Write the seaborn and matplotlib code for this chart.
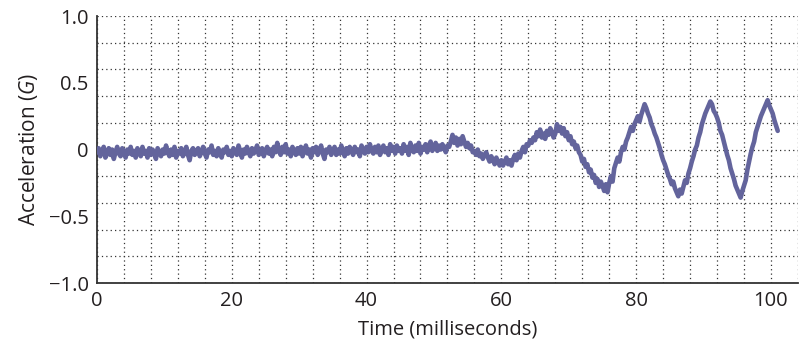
import numpy as np
import pandas as pd
import matplotlib
matplotlib.use("Agg")
import matplotlib.pyplot as plt
import seaborn as sns

# ------------------ DATA (0.25 ms steps) ------------------
time_ms = np.arange(0, 101.01, 0.25)

accel_g = [
    # 0 - 5 ms
    -0.02, 0.01, -0.05, -0.01, 0.02, -0.06, -0.03, 0.01, -0.04, 0.00,
    -0.07, -0.02, 0.02, -0.03, -0.05, 0.01, -0.02, -0.06, 0.00, -0.03,
    # 5 - 10 ms
    0.02, -0.04, -0.01, -0.06, 0.01, -0.02, -0.05, 0.02, -0.03, -0.01,
    -0.06, 0.01, -0.04, 0.00, -0.03, -0.07, 0.01, -0.02, -0.05, 0.00,
    # 10 - 15 ms
    -0.03, 0.03, -0.02, -0.05, 0.00, -0.04, 0.02, -0.06, -0.01, -0.03,
    0.01, -0.05, -0.02, 0.02, -0.04, -0.08, -0.01, 0.01, -0.04, -0.02,
    # 15 - 20 ms
    0.01, -0.05, -0.02, 0.02, -0.03, -0.06, 0.00, -0.02, 0.03, -0.04,
    -0.01, -0.05, 0.01, -0.03, -0.06, 0.00, -0.02, 0.02, -0.04, -0.01,
    # 20 - 25 ms
    -0.05, 0.01, -0.02, -0.04, 0.03, -0.01, -0.06, 0.00, -0.03, 0.02,
    -0.02, -0.05, 0.01, -0.03, -0.01, 0.03, -0.04, -0.02, 0.01, -0.05,
    # 25 - 30 ms
    -0.01, 0.02, -0.03, 0.00, -0.05, 0.02, -0.02, 0.05, -0.01, -0.04,
    0.02, -0.02, 0.04, -0.03, 0.00, -0.05, 0.02, -0.01, -0.04, 0.01,
    # 30 - 35 ms
    -0.03, 0.02, -0.05, -0.01, 0.03, -0.03, 0.00, -0.06, 0.01, -0.02,
    0.02, -0.04, -0.01, 0.03, -0.03, -0.07, 0.00, -0.02, 0.02, -0.04,
    # 35 - 40 ms
    -0.01, 0.02, -0.04, 0.00, -0.03, 0.03, -0.02, -0.05, 0.01, -0.03,
    0.02, -0.01, -0.04, 0.02, -0.02, 0.00, -0.05, 0.03, -0.01, -0.03,
    # 40 - 45 ms
    0.02, -0.02, 0.04, -0.01, -0.03, 0.02, -0.02, 0.03, -0.04, 0.00,
    0.03, -0.02, 0.01, -0.04, 0.04, -0.01, 0.02, -0.03, 0.03, -0.01,
    # 45 - 50 ms
    0.01, -0.03, 0.04, -0.01, 0.02, -0.04, 0.05, 0.00, -0.02, 0.03,
    -0.01, 0.05, -0.03, 0.02, 0.00, 0.04, -0.02, 0.03, 0.06, -0.01,
    # 50 - 55 ms
    0.02, 0.05, -0.01, 0.03, 0.00, 0.04, 0.01, -0.02, 0.03, 0.02,
    0.06, 0.11, 0.05, 0.09, 0.03, 0.08, 0.04, 0.10, 0.06, 0.02,
    # 55 - 60 ms
    0.05, 0.01, 0.03, -0.02, -0.01, -0.04, 0.00, -0.05, -0.03, -0.07,
    -0.04, -0.02, -0.06, -0.09, -0.05, -0.08, -0.11, -0.06, -0.09, -0.12,
    # 60 - 65 ms
    -0.08, -0.12, -0.09, -0.06, -0.11, -0.08, -0.12, -0.07, -0.04, -0.08,
    -0.03, -0.06, -0.01, 0.02, -0.02, 0.04, 0.03, 0.07, 0.05, 0.09,
    # 65 - 70 ms
    0.07, 0.13, 0.10, 0.15, 0.09, 0.12, 0.08, 0.14, 0.11, 0.16,
    0.13, 0.09, 0.12, 0.19, 0.14, 0.17, 0.12, 0.16, 0.10, 0.13,
    # 70 - 75 ms
    0.07, 0.10, 0.04, 0.06, 0.01, 0.03, -0.02, -0.04, -0.09, -0.07,
    -0.13, -0.11, -0.17, -0.15, -0.21, -0.19, -0.25, -0.22, -0.28, -0.24,
    # 75 - 80 ms
    -0.27, -0.31, -0.26, -0.32, -0.25, -0.20, -0.24, -0.14, -0.10, -0.06,
    -0.09, -0.02, 0.02, 0.00, 0.06, 0.09, 0.13, 0.17, 0.14, 0.19,
    # 80 - 85 ms
    0.22, 0.25, 0.21, 0.26, 0.30, 0.34, 0.31, 0.27, 0.24, 0.19,
    0.16, 0.12, 0.09, 0.05, 0.01, -0.04, -0.08, -0.11, -0.15, -0.19,
    # 85 - 90 ms
    -0.22, -0.26, -0.24, -0.29, -0.32, -0.35, -0.30, -0.33, -0.28, -0.23,
    -0.25, -0.18, -0.14, -0.09, -0.05, 0.00, 0.03, 0.09, 0.13, 0.19,
    # 90 - 95 ms
    0.23, 0.27, 0.30, 0.33, 0.36, 0.34, 0.29, 0.27, 0.24, 0.20,
    0.14, 0.11, 0.06, 0.01, -0.04, -0.08, -0.14, -0.18, -0.22, -0.27,
    # 95 - 100 ms
    -0.30, -0.33, -0.36, -0.31, -0.27, -0.23, -0.15, -0.09, -0.03, 0.02,
    0.06, 0.13, 0.17, 0.21, 0.25, 0.28, 0.31, 0.34, 0.37, 0.33,
    # 100 - 101 ms
    0.30, 0.27, 0.22, 0.18, 0.14,
]

x_major = [0, 20, 40, 60, 80, 100]
y_major = [-1.0, -0.5, 0, 0.5, 1.0]
y_labels = ["\u22121.0", "\u22120.5", "0", "0.5", "1.0"]
x_grid = np.arange(0, 104.1, 4)
y_grid = np.round(np.arange(-1.0, 1.01, 0.2), 1)

df = pd.DataFrame({"time": time_ms, "accel": accel_g})

# ------------------ STYLE ------------------
sns.set_style("white")
plt.rcParams["font.family"] = ["Open Sans", "DejaVu Sans"]
plt.rcParams["mathtext.fontset"] = "custom"
plt.rcParams["mathtext.it"] = "Open Sans:italic"
plt.rcParams["mathtext.rm"] = "Open Sans"
text_color = "#231f20"

fig = plt.figure(figsize=(8.06, 3.5), dpi=100)
ax = fig.add_axes([0.1203, 0.1914, 0.8697, 0.7626])

sns.lineplot(data=df, x="time", y="accel", sort=False, color="#63649c",
             linewidth=3.3, ax=ax, zorder=3)

ax.set_xlim(0, 104)
ax.set_ylim(-1.0, 1.0)

ax.set_xticks(x_major)
ax.set_xticklabels([str(v) for v in x_major])
ax.set_xticks(x_grid, minor=True)
ax.set_yticks(y_major)
ax.set_yticklabels(y_labels)
ax.set_yticks(y_grid, minor=True)
ax.xaxis.remove_overlapping_locs = False
ax.yaxis.remove_overlapping_locs = False

ax.grid(False)
ax.grid(which="minor", color="#333333", linestyle=(0, (1, 2.5)), linewidth=0.9)

ax.tick_params(which="both", direction="in", length=3, width=0.8, color="#333333",
               labelsize=14.5, labelcolor=text_color, pad=6)
ax.tick_params(which="major", length=0)

for side in ["top", "right"]:
    ax.spines[side].set_visible(False)
for side in ["left", "bottom"]:
    ax.spines[side].set_color("#333333")
    ax.spines[side].set_linewidth(1.3)

ax.set_xlabel("Time (milliseconds)", fontsize=14.5, color=text_color, labelpad=6)
ax.set_ylabel("Acceleration ($\\mathit{G}$)", fontsize=15, color=text_color, labelpad=6)

fig.savefig("out.png", dpi=100)
